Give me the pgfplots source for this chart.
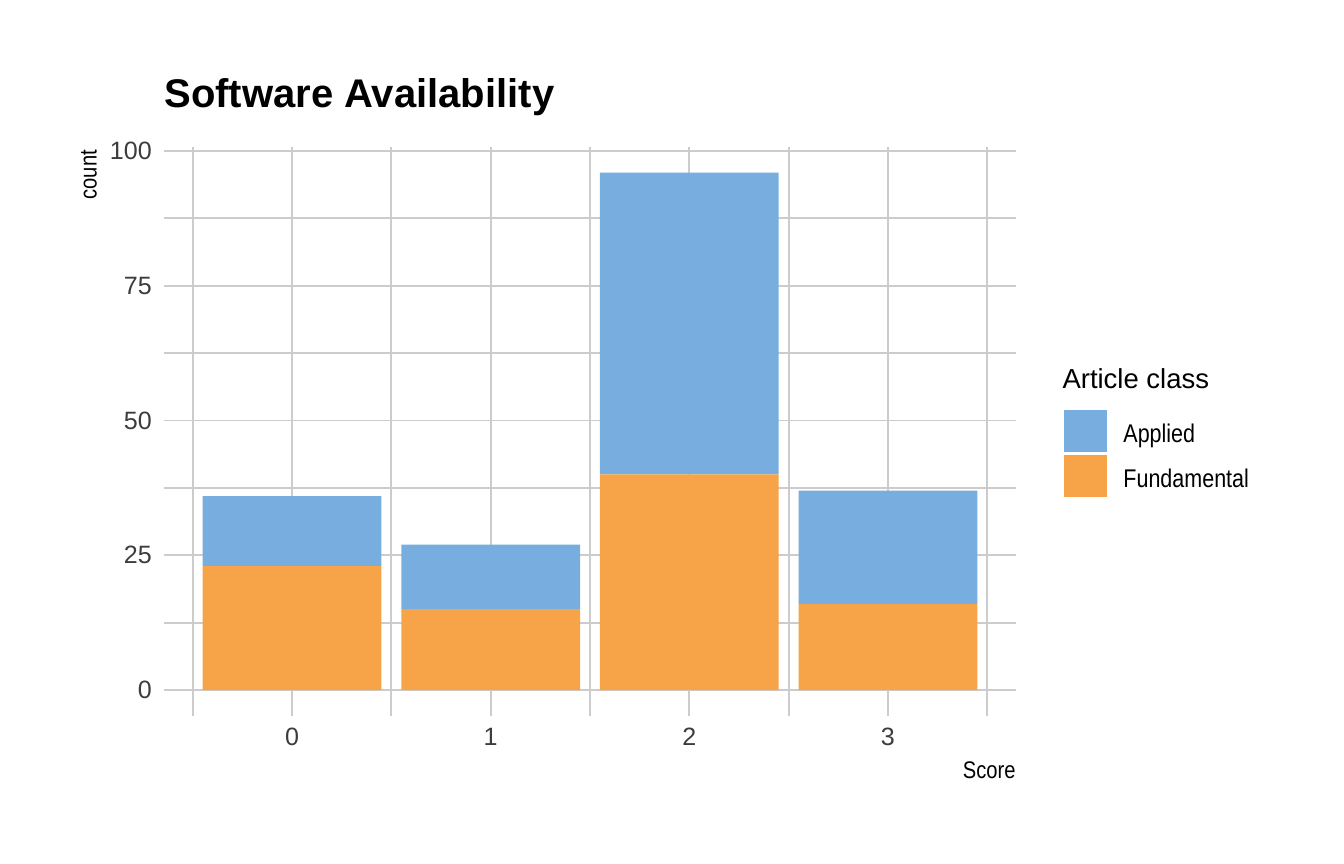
\documentclass[border=0pt]{standalone}
\usepackage{fontspec}
\setmainfont{Liberation Sans}
\newfontfamily\condfont{Liberation Sans}[FakeStretch=0.84]
\usepackage{pgfplots}
\pgfplotsset{compat=1.18}
\usepackage{xcolor}
\definecolor{applied}{HTML}{78ADDF}
\definecolor{fundam}{HTML}{F7A448}
\definecolor{gridc}{HTML}{CCCCCC}
\definecolor{tickc}{HTML}{3C3C3C}

\pgfplotsset{
  sqkey/.style={legend image code/.code={\fill[##1,draw=none] (0pt,-6.4pt) rectangle (16.1pt,9.35pt);}},
}

\begin{document}
\begin{tikzpicture}
\path[use as bounding box] (0,0) rectangle (504pt,324pt);
\begin{axis}[
  at={(61.5pt,55.5pt)}, anchor=south west,
  scale only axis, width=319.5pt, height=213.5pt,
  ybar stacked, bar width=0.9,
  xmin=-0.645, xmax=3.645, ymin=-4.8, ymax=100.8,
  xtick={0,1,2,3}, minor xtick={-0.5,0.5,1.5,2.5,3.5},
  ytick={0,25,50,75,100}, minor ytick={12.5,37.5,62.5,87.5},
  grid=both,
  major grid style={draw=gridc, line width=0.7pt},
  minor grid style={draw=gridc, line width=0.7pt},
  axis line style={draw=none},
  tick style={draw=none},
  major tick length=0pt, minor tick length=0pt,
  /pgf/number format/assume math mode=true,
  ticklabel style={font=\fontsize{9.4}{11}\selectfont, text=tickc, inner sep=0pt},
  yticklabel style={xshift=-4.4pt},
  xticklabel style={yshift=-4.4pt},
  reverse legend,
  legend style={at={(1.0563,0.5375)}, anchor=north west, draw=none, fill=none,
    inner sep=0pt, outer sep=0pt,
    font=\condfont\fontsize{9.6}{11}\selectfont, nodes={inner sep=0pt},
    row sep=1.1pt, column sep=6.2pt},
  legend cell align=left,
  clip=false,
]
\addplot[fill=fundam, draw=none, sqkey] coordinates {(0,23) (1,15) (2,40) (3,16)};
\addlegendentry{Fundamental}
\addplot[fill=applied, draw=none, sqkey] coordinates {(0,13) (1,12) (2,56) (3,21)};
\addlegendentry{Applied}

\node[anchor=base west, inner sep=0pt, font=\fontsize{15}{17}\selectfont\bfseries]
  at (axis description cs:0,1.068) {Software Availability};
\node[anchor=base east, rotate=90, inner sep=0pt, font=\condfont\fontsize{9}{10}\selectfont]
  at (axis description cs:-0.079,0.995) {count};
\node[anchor=base east, inner sep=0pt, font=\condfont\fontsize{9}{10}\selectfont]
  at (axis description cs:1,-0.109) {Score};
\node[anchor=base west, inner sep=0pt, font=\fontsize{10.3}{12}\selectfont]
  at (axis description cs:1.054,0.5744) {Article class};
\end{axis}
\end{tikzpicture}
\end{document}
